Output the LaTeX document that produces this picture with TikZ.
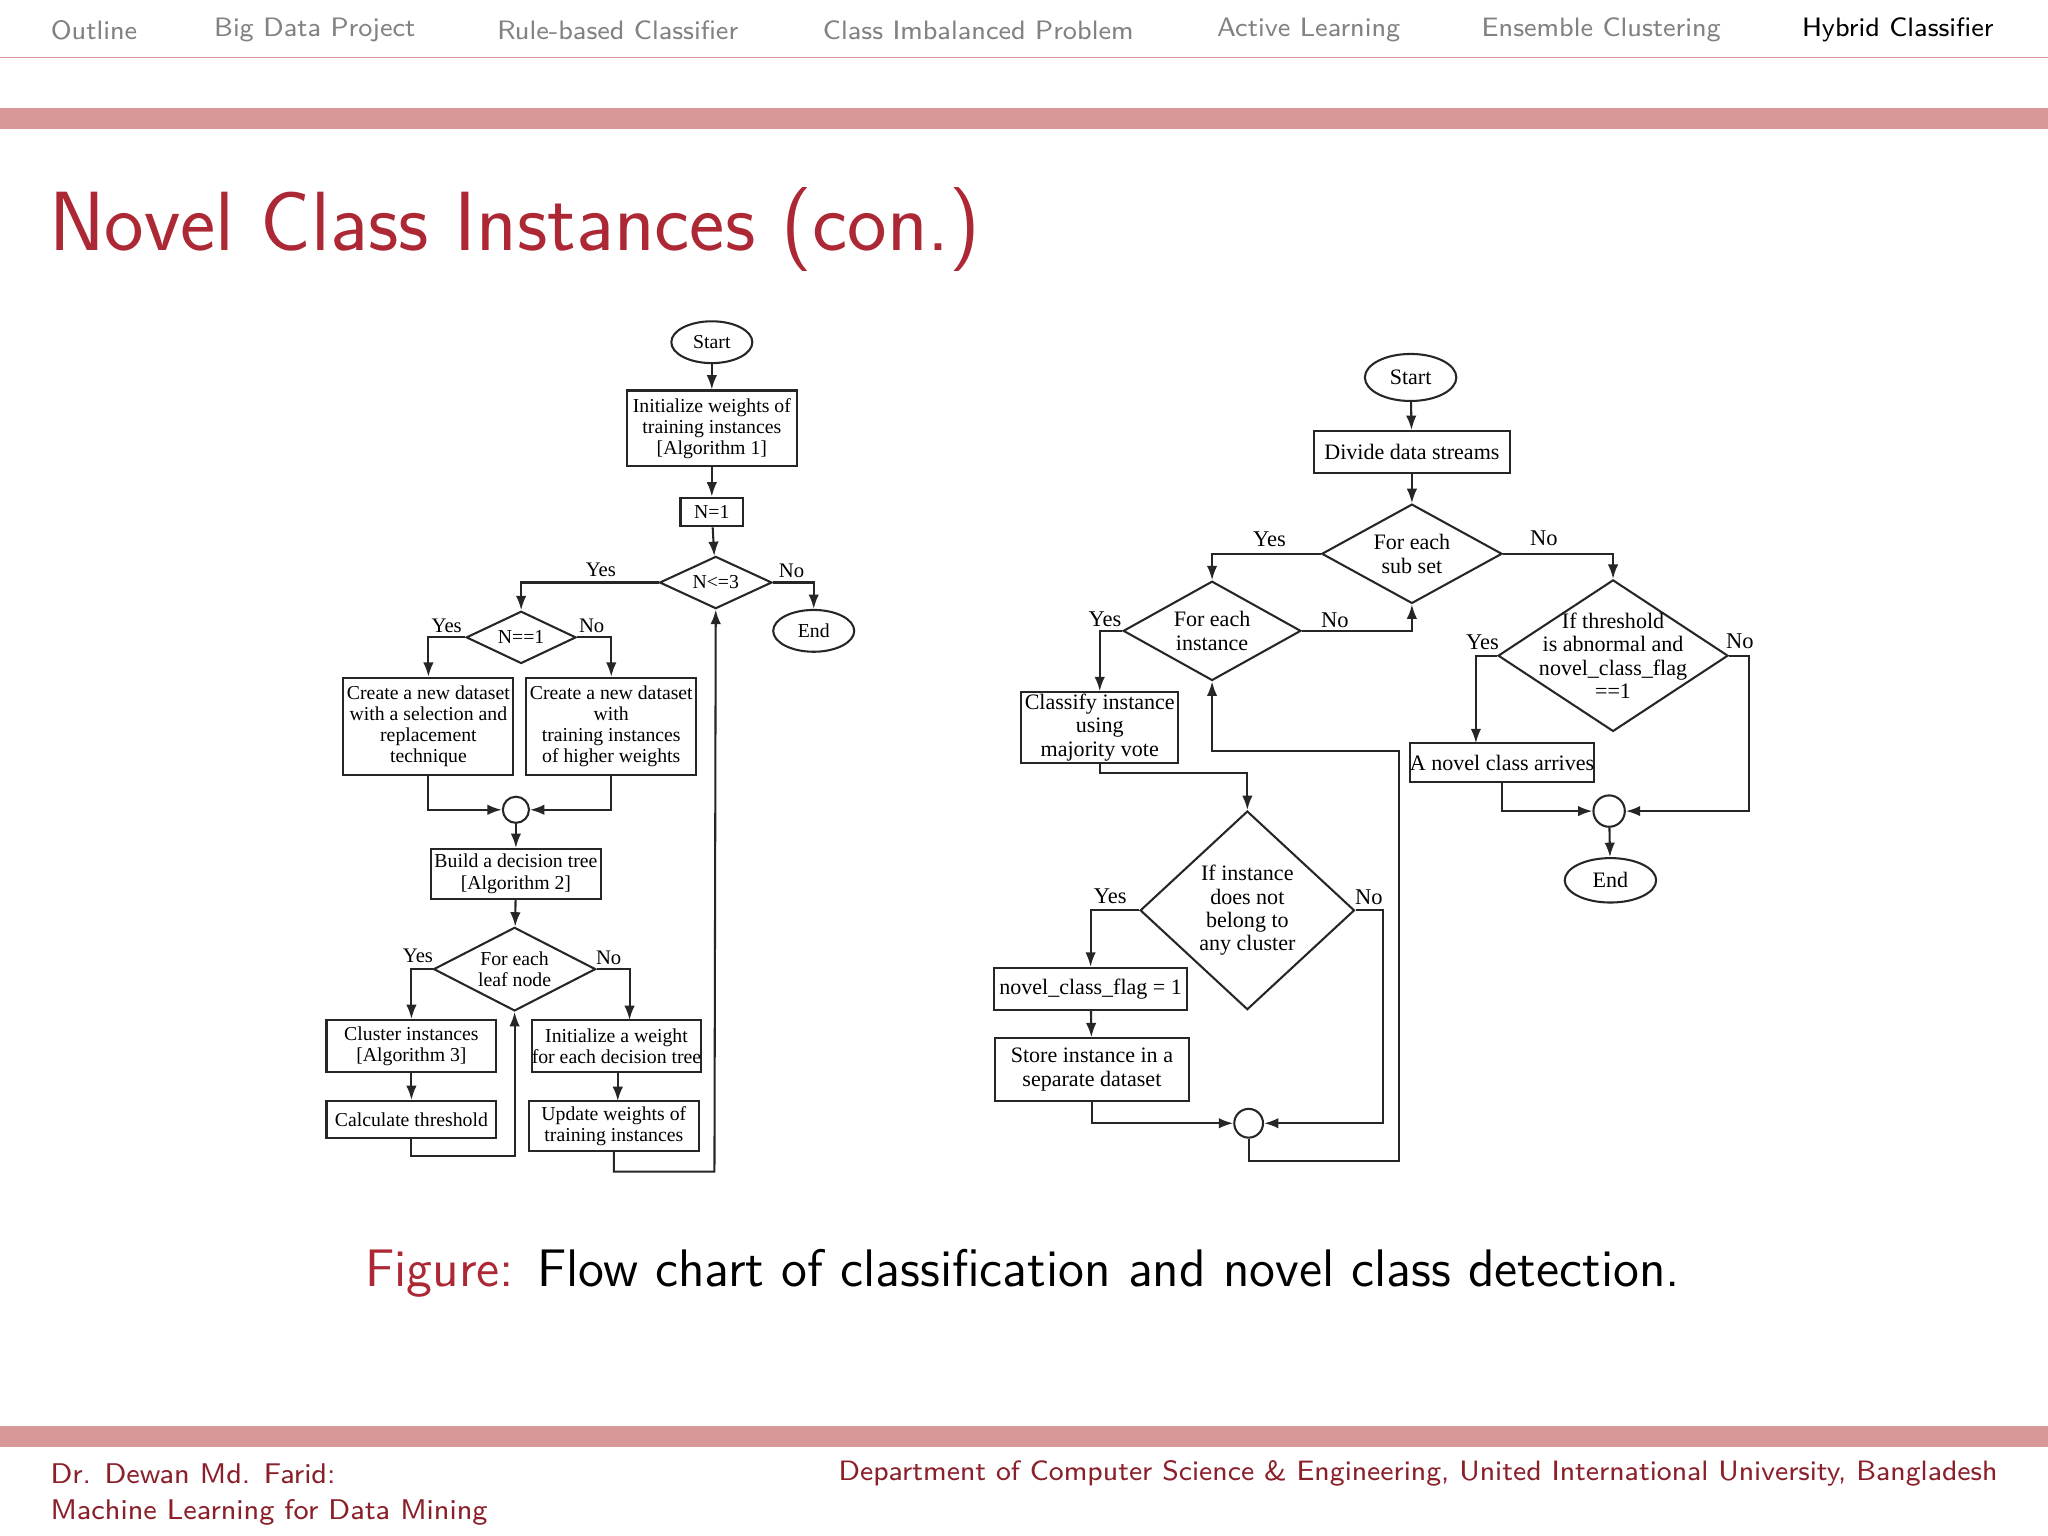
\documentclass[tikz,border=0pt]{standalone}
\usepackage{fontspec}
\setmainfont{Liberation Serif}
\setsansfont{Latin Modern Sans}
\usetikzlibrary{shapes.geometric,arrows.meta}
\definecolor{barred}{RGB}{217,152,152}
\definecolor{titred}{RGB}{172,40,52}
\definecolor{menugray}{RGB}{130,130,130}
\begin{document}
\begin{tikzpicture}[x=0.01cm,y=-0.01cm,
  ln/.style={line width=0.45pt,draw=black!85},
  ar/.style={ln,-{Latex[length=1.1mm,width=0.8mm]}},
  fl/.style={font=\fontsize{4.3}{4.6}\selectfont,align=center,inner sep=0pt},
  fr/.style={font=\fontsize{4.8}{5.1}\selectfont,align=center,inner sep=0pt},
  bx/.style={draw=black!85,line width=0.45pt,rectangle},
  el/.style={draw=black!85,line width=0.45pt,ellipse},
  dm/.style={draw=black!85,line width=0.45pt,diamond,inner sep=0pt},
  cir/.style={draw=black!85,line width=0.45pt,circle,inner sep=0pt},
  lab/.style={font=\fontsize{4.5}{5}\selectfont,inner sep=0pt},
  labr/.style={font=\fontsize{4.9}{5}\selectfont,inner sep=0pt},
  menu/.style={font=\sffamily\fontsize{5.8}{6}\selectfont,text=menugray,inner sep=0pt}]
\useasboundingbox (0,0) rectangle (1568,1176);
\fill[white] (0,0) rectangle (1568,1176);
% header
\foreach \x/\t in {72/Outline,241/Big Data Project,473/Rule-based Classifier,749/Class Imbalanced Problem,1002/Active Learning,1226/Ensemble Clustering}
  \node[menu] at (\x,23) {\t};
\node[menu,text=black] at (1453,23) {Hybrid Classifier};
\draw[barred,line width=0.4pt] (0,44) -- (1568,44);
\fill[barred] (0,83) rectangle (1568,99);
\node[anchor=base west,inner sep=0pt,text=titred,font=\sffamily\fontsize{18.3}{20}\selectfont] at (37,192) {Novel Class Instances (con.)};
% caption
\node[inner sep=0pt,font=\sffamily\fontsize{11.5}{12}\selectfont] at (783,975) {\textcolor{titred}{Figure:} Flow chart of classification and novel class detection.};
% footer
\fill[barred] (0,1092) rectangle (1568,1108);
\node[anchor=west,inner sep=0pt,text=titred!80!black,font=\sffamily\fontsize{6.2}{7}\selectfont] at (38,1128) {Dr. Dewan Md. Farid:};
\node[anchor=west,inner sep=0pt,text=titred!80!black,font=\sffamily\fontsize{6.2}{7}\selectfont] at (38,1158) {Machine Learning for Data Mining};
\node[anchor=east,inner sep=0pt,text=titred!80!black,font=\sffamily\fontsize{6.1}{7}\selectfont] at (1530,1128) {Department of Computer Science \& Engineering, United International University, Bangladesh};

% ===== left chart =====
\node[el,fl,minimum width=6.2mm,minimum height=3.2mm] (ls) at (545,262) {Start};
\node[bx,fl,minimum width=13mm,minimum height=5.8mm] (li) at (545,328) {Initialize weights of\\training instances\\{[Algorithm 1]}};
\node[bx,fl,minimum width=4.8mm,minimum height=2.2mm] (ln1) at (545,392) {N=1};
\node[dm,minimum width=8.6mm,minimum height=4mm] (ld3) at (548,446) {};
\node[fl] at (ld3) {N<=3};
\node[el,fl,minimum width=6.2mm,minimum height=3.2mm] (le) at (623,483) {End};
\node[dm,minimum width=8.4mm,minimum height=4mm] (ld1) at (399,488) {};
\node[fl] at (ld1) {N==1};
\node[bx,fl,minimum width=13mm,minimum height=7.4mm] (lc1) at (328,556) {Create a new dataset\\with a selection and\\replacement\\technique};
\node[bx,fl,minimum width=13mm,minimum height=7.4mm] (lc2) at (468,556) {Create a new dataset\\with\\training instances\\of higher weights};
\node[cir,minimum size=2mm] (lo) at (395,620) {};
\node[bx,fl,minimum width=13mm,minimum height=3.8mm] (lb) at (395,669) {Build a decision tree\\{[Algorithm 2]}};
\node[dm,minimum width=12.4mm,minimum height=6.4mm] (ldl) at (394,742) {};
\node[fl] at (ldl) {For each\\leaf node};
\node[bx,fl,minimum width=13mm,minimum height=4mm] (lcl) at (315,801) {Cluster instances\\{[Algorithm 3]}};
\node[bx,fl,minimum width=13mm,minimum height=4mm] (liw) at (472,801) {Initialize a weight\\for each decision tree};
\node[bx,fl,minimum width=13mm,minimum height=2.8mm] (lct) at (315,857) {Calculate threshold};
\node[bx,fl,minimum width=13mm,minimum height=3.8mm] (lu) at (470,862) {Update weights of\\training instances};

\draw[ar] (ls) -- (li);
\draw[ar] (li) -- (ln1);
\draw[ar] (ln1) -- (ld3);
\draw[ar] (ld3.west) -| (ld1.north);
\node[lab] at (460,436) {Yes};
\draw[ar] (ld3.east) -| (le.north);
\node[lab] at (606,437) {No};
\draw[ar] (ld1.west) -| (lc1.north);
\node[lab] at (342,479) {Yes};
\draw[ar] (ld1.east) -| (lc2.north);
\node[lab] at (453,479) {No};
\draw[ar] (lc1.south) |- (lo.west);
\draw[ar] (lc2.south) |- (lo.east);
\draw[ar] (lo) -- (lb);
\draw[ar] (lb) -- (ldl);
\draw[ar] (ldl.west) -| (lcl.north);
\node[lab] at (320,732) {Yes};
\coordinate (liwt) at (482,781);
\draw[ar] (ldl.east) -| (liwt);
\node[lab] at (466,733) {No};
\draw[ar] (lcl) -- (lct);
\coordinate (liwb) at (473,821);
\coordinate (lut) at (473,843);
\draw[ar] (liwb) -- (lut);
\draw[ar] (lct.south) -- (315,885) -- (394,885) -- (ldl.south);
\draw[ar] (lu.south) -- (470,897) -- (547,897) -- (ld3.south);

% ===== right chart =====
\node[el,fr,minimum width=7mm,minimum height=3.6mm] (rs) at (1080,289) {Start};
\node[bx,fr,minimum width=15mm,minimum height=3.2mm] (rdv) at (1081,346) {Divide data streams};
\node[dm,minimum width=13.8mm,minimum height=7.6mm] (rsub) at (1081,424) {};
\node[fr] at (rsub) {For each\\sub set};
\node[dm,minimum width=13.6mm,minimum height=7.6mm] (rin) at (928,483) {};
\node[fr] at (rin) {For each\\instance};
\node[bx,fr,minimum width=12mm,minimum height=5.4mm] (rcl) at (842,557) {Classify instance\\using\\majority vote};
\node[dm,minimum width=17.6mm,minimum height=11.6mm] (rth) at (1235,502) {};
\node[fr] at (rth) {If threshold\\is abnormal and\\novel\_class\_flag\\==1};
\node[bx,fr,minimum width=13.8mm,minimum height=3mm] (rnv) at (1150,584) {A novel class arrives};
\node[cir,minimum size=2.4mm] (ro1) at (1232,621) {};
\node[el,fr,minimum width=7mm,minimum height=3.4mm] (re) at (1233,674) {End};
\node[dm,minimum width=16.4mm,minimum height=15.2mm] (rif) at (955,697) {};
\node[fr] at (rif) {If instance\\does not\\belong to\\any cluster};
\node[bx,fr,minimum width=14.8mm,minimum height=3.2mm] (rnf) at (835,757) {novel\_class\_flag = 1};
\node[bx,fr,minimum width=14.8mm,minimum height=4.8mm] (rst) at (836,819) {Store instance in a\\separate dataset};
\node[cir,minimum size=2.2mm] (ro2) at (956,860) {};

\draw[ar] (rs) -- (rdv);
\draw[ar] (rdv) -- (rsub);
\draw[ar] (rsub.west) -| (rin.north);
\node[labr] at (972,413) {Yes};
\draw[ar] (rsub.east) -| (rth.north);
\node[labr] at (1182,412) {No};
\draw[ar] (rin.west) -| (rcl.north);
\node[labr] at (846,474) {Yes};
\draw[ar] (rin.east) -| (rsub.south);
\node[labr] at (1022,475) {No};
\draw[ar] (rcl.south) -- (842,592) -| (rif.north);
\draw[ar] (rif.west) -| (rnf.north);
\node[labr] at (850,686) {Yes};
\draw[ar] (rif.east) -- (1059,697) |- (ro2.east);
\node[labr] at (1048,687) {No};
\draw[ar] (rnf) -- (rst);
\draw[ar] (rst.south) |- (ro2.west);
\draw[ar] (ro2.south) -- (956,889) -- (1071,889) -- (1071,575) -- (928,575) -- (rin.south);
\coordinate (rnvt) at (1130,569);
\draw[ar] (rth.west) -| (rnvt);
\node[labr] at (1135,492) {Yes};
\draw[ar] (rth.east) -- (1339,502) |- (ro1.east);
\node[labr] at (1332,491) {No};
\draw[ar] (rnv.south) |- (ro1.west);
\draw[ar] (ro1) -- (re);
\end{tikzpicture}
\end{document}
